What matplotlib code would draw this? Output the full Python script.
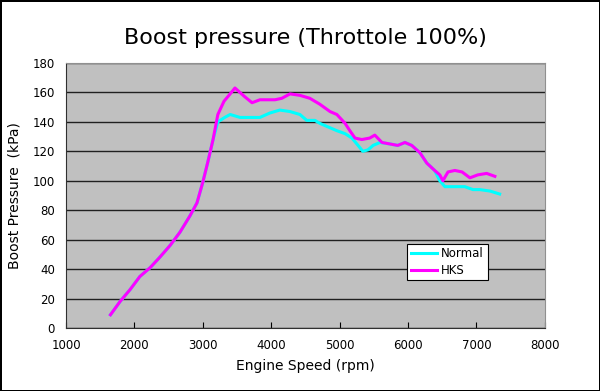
import matplotlib as mpl
mpl.use("Agg")
import matplotlib.pyplot as plt

# engine speed (rpm) and boost (kPa)
rpm_normal = [1650, 1790, 1935, 2080, 2230, 2370, 2520, 2665, 2810, 2915, 3000,
              3075, 3150, 3220, 3320, 3400, 3545, 3690, 3835, 3980, 4125, 4275,
              4420, 4520, 4640, 4710, 4860, 4960, 5080, 5180, 5270, 5340, 5415,
              5490, 5590, 5735, 5850, 5955, 6055, 6175, 6275, 6390, 6465, 6540,
              6685, 6830, 6950, 7050, 7200, 7340]
kpa_normal = [9, 18, 26, 35, 41, 48, 56, 65, 76, 85, 99,
              113, 128, 140, 143, 145, 143, 143, 143, 146, 148, 147,
              145, 141, 141, 139, 136, 134, 132, 129, 124, 120, 121,
              124, 126, 125, 124, 126, 124, 119, 112, 107, 100, 96,
              96, 96, 94, 94, 93, 91]

rpm_hks = [1650, 1790, 1935, 2080, 2230, 2370, 2520, 2665, 2810, 2915, 3000,
           3075, 3150, 3220, 3310, 3400, 3470, 3615, 3720, 3835, 4055, 4155,
           4275, 4420, 4565, 4710, 4860, 4960, 5080, 5150, 5225, 5325, 5440,
           5515, 5620, 5735, 5850, 5955, 6055, 6175, 6275, 6390, 6465, 6510,
           6585, 6685, 6790, 6905, 7020, 7150, 7270]
kpa_hks = [9, 18, 26, 35, 41, 48, 56, 65, 76, 85, 99,
           113, 128, 145, 154, 159, 163, 157, 153, 155, 155, 156,
           159, 158, 156, 152, 147, 145, 139, 134, 129, 128, 129,
           131, 126, 125, 124, 126, 124, 119, 112, 107, 104, 100,
           106, 107, 106, 102, 104, 105, 103]

fig = plt.figure(figsize=(6, 3.91), dpi=100, facecolor='white',
                 edgecolor='black', linewidth=2)
ax = fig.add_axes([0.11, 0.161, 0.798, 0.678])
ax.set_facecolor('#C0C0C0')

ax.plot(rpm_normal, kpa_normal, color='#00FFFF', lw=2.2, label='Normal')
ax.plot(rpm_hks, kpa_hks, color='#FF00FF', lw=2.2, label='HKS')

ax.set_xlim(1000, 8000)
ax.set_ylim(0, 180)
ax.set_xticks(range(1000, 8001, 1000))
ax.set_yticks(range(0, 181, 20))
ax.yaxis.grid(True, color='#202020', lw=1)
ax.set_axisbelow(True)
ax.tick_params(axis='x', direction='in', length=4, labelsize=8.5, pad=8)
ax.tick_params(axis='y', length=0, labelsize=8.5, pad=8)
for s in ['left', 'bottom']:
    ax.spines[s].set_color('#303030')
for s in ['top', 'right']:
    ax.spines[s].set_color('#909090')

ax.set_title('Boost pressure (Throttole 100%)', fontsize=16, pad=14)
ax.set_xlabel('Engine Speed (rpm)', fontsize=10, labelpad=5)
ax.set_ylabel('Boost Pressure  (kPa)', fontsize=10, labelpad=8)

leg = ax.legend(loc='upper left', bbox_to_anchor=(0.70, 0.34), fontsize=8.5,
                fancybox=False, framealpha=1, edgecolor='black',
                handlelength=2.2, handletextpad=0.4, borderpad=0.3,
                labelspacing=0.3)
leg.get_frame().set_linewidth(0.8)

plt.savefig('out.png', dpi=100, edgecolor=fig.get_edgecolor())
